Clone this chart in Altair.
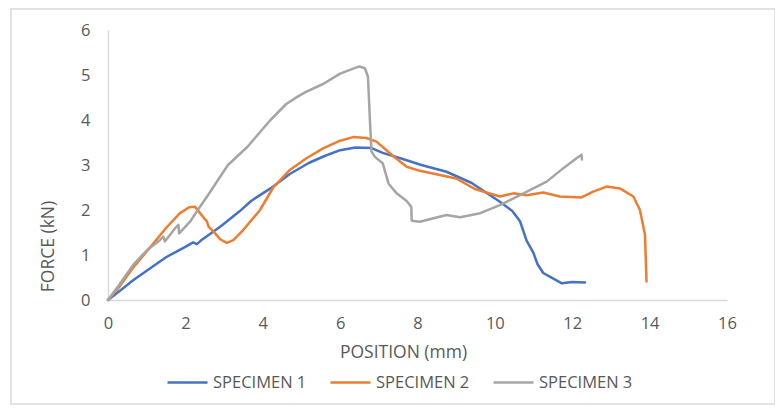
import altair as alt
import pandas as pd

# ---- data ----
s1_x = [0, 0.3, 0.65, 1.0, 1.5, 2.0, 2.2, 2.3, 2.4, 2.9, 3.4, 3.7, 3.84, 4.2, 4.7, 5.2, 5.6, 6.0, 6.4, 6.8,
        7.1, 7.6, 8.1, 8.75, 9.4, 10.1, 10.45, 10.65, 10.82, 11.0, 11.1, 11.25, 11.5, 11.73, 12.0, 12.33]
s1_y = [0, 0.2, 0.44, 0.65, 0.95, 1.18, 1.28, 1.24, 1.32, 1.63, 1.97, 2.2, 2.28, 2.48, 2.8, 3.05, 3.2, 3.33, 3.39, 3.38,
        3.27, 3.14, 3.0, 2.85, 2.6, 2.2, 1.98, 1.75, 1.32, 1.04, 0.8, 0.6, 0.48, 0.37, 0.4, 0.39]

s2_x = [0, 0.3, 0.65, 1.1, 1.5, 1.86, 2.1, 2.25, 2.38, 2.5, 2.55, 2.6, 2.77, 2.9, 3.07, 3.24, 3.5, 3.93, 4.27, 4.7, 5.13,
        5.56, 6.0, 6.34, 6.68, 6.94, 7.37, 7.72, 8.06, 8.58, 9.0, 9.5, 10.13, 10.48, 10.82, 11.25, 11.68, 12.24,
        12.54, 12.89, 13.23, 13.58, 13.75, 13.88, 13.92]
s2_y = [0, 0.3, 0.72, 1.18, 1.6, 1.93, 2.06, 2.07, 1.93, 1.8, 1.76, 1.63, 1.48, 1.35, 1.27, 1.33, 1.56, 2.0, 2.5, 2.89, 3.15,
        3.37, 3.54, 3.62, 3.6, 3.52, 3.2, 2.96, 2.87, 2.78, 2.7, 2.46, 2.3, 2.37, 2.33, 2.39, 2.3, 2.28,
        2.41, 2.52, 2.48, 2.3, 2.0, 1.45, 0.41]

s3_x = [0, 0.3, 0.65, 1.0, 1.34, 1.43, 1.47, 1.73, 1.82, 1.84, 2.12, 2.29, 2.6, 3.1, 3.6, 4.2, 4.6, 4.9, 5.13, 5.56,
        6.0, 6.34, 6.5, 6.64, 6.72, 6.77, 6.81, 6.9, 7.1, 7.25, 7.46, 7.72, 7.84, 7.85, 8.06, 8.75, 9.1, 9.62,
        10.13, 10.65, 11.34, 11.77, 12.11, 12.24, 12.25]
s3_y = [0, 0.35, 0.78, 1.1, 1.33, 1.41, 1.3, 1.59, 1.67, 1.48, 1.74, 1.96, 2.35, 3.0, 3.4, 4.0, 4.35, 4.52, 4.63, 4.8,
        5.03, 5.14, 5.19, 5.15, 4.96, 4.0, 3.3, 3.18, 3.04, 2.59, 2.37, 2.2, 2.07, 1.76, 1.74, 1.89, 1.84, 1.93,
        2.11, 2.33, 2.63, 2.93, 3.15, 3.23, 3.12]

series_names = ["SPECIMEN 1", "SPECIMEN 2", "SPECIMEN 3"]
series_colors = ["#4472C4", "#ED7D31", "#A5A5A5"]
x_ticks = [0, 2, 4, 6, 8, 10, 12, 14, 16]
y_ticks = [0, 1, 2, 3, 4, 5, 6]

rows = []
for name, xs, ys in zip(series_names, [s1_x, s2_x, s3_x], [s1_y, s2_y, s3_y]):
    for i, (xv, yv) in enumerate(zip(xs, ys)):
        rows.append({"series": name, "order": i, "pos": xv, "force": yv})
df = pd.DataFrame(rows)

W, H = 619, 270
FONT = "Open Sans"
TXT = "#595959"
LBL = 16.5
TTL = 17.5

lines = alt.Chart(df).mark_line(strokeWidth=2.5, strokeJoin="round", strokeCap="round").encode(
    x=alt.X("pos:Q", scale=alt.Scale(domain=[0, 16], nice=False, zero=False),
            axis=alt.Axis(values=x_ticks, title="POSITION (mm)", grid=False, ticks=False,
                          labelFlush=False, labelOverlap=False,
                          domainColor="#D9D9D9", domainWidth=1.5, labelPadding=15,
                          labelFontSize=LBL, labelColor=TXT, labelFont=FONT,
                          titleFontSize=TTL, titleColor=TXT, titleFont=FONT, titleFontWeight="normal",
                          titleX=295, titleY=43)),
    y=alt.Y("force:Q", scale=alt.Scale(domain=[0, 6], nice=False),
            axis=alt.Axis(values=y_ticks, title="FORCE (kN)", grid=False, ticks=False,
                          labelFlush=False, labelOverlap=False,
                          domainColor="#D9D9D9", domainWidth=1.5, labelPadding=18,
                          labelFontSize=LBL, labelColor=TXT, labelFont=FONT,
                          titleFontSize=TTL, titleColor=TXT, titleFont=FONT, titleFontWeight="normal",
                          titleX=-51, titleY=216)),
    color=alt.Color("series:N", scale=alt.Scale(domain=series_names, range=series_colors),
                    legend=alt.Legend(title=None, orient="none", legendX=58, legendY=331,
                                      direction="horizontal", columns=3,
                                      symbolType="M-1,0H1", symbolSize=1600, symbolStrokeWidth=2.5,
                                      labelFontSize=LBL, labelColor=TXT, labelFont=FONT,
                                      labelOffset=4, columnPadding=18)),
    order="order:Q",
)

border = alt.Chart(pd.DataFrame({"a": [0]})).mark_rect(
    fill="white", fillOpacity=0, stroke="#D9D9D9", strokeWidth=1.5
).encode(x=alt.value(-97), x2=alt.value(667), y=alt.value(-21), y2=alt.value(374))

chart = alt.layer(border, lines).properties(
    width=W, height=H,
    autosize=alt.AutoSizeParams(type="none"),
    padding={"left": 100, "top": 22, "right": 48, "bottom": 107},
).configure(font=FONT, view=alt.ViewConfig(stroke=None))

chart.save("out.html", embed_options={"renderer": "svg", "actions": False})
